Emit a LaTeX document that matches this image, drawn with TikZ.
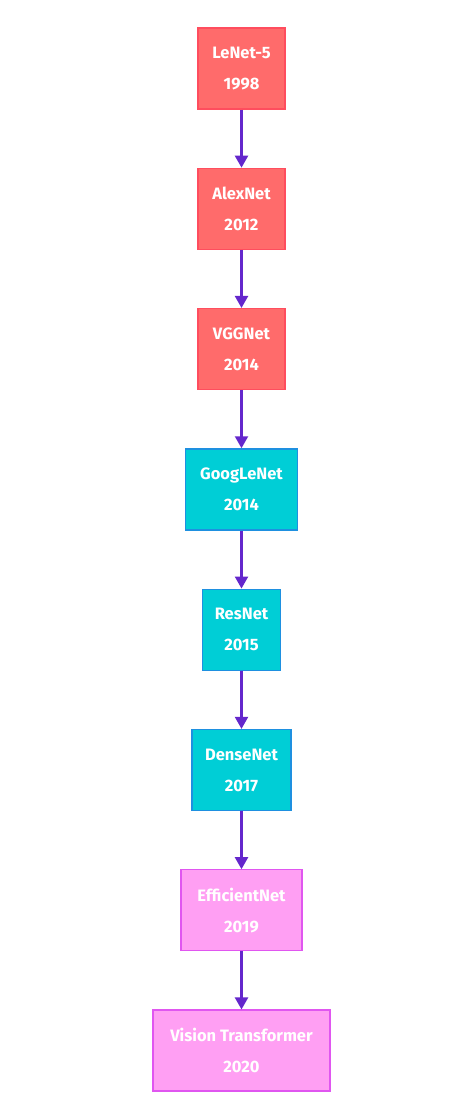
\documentclass[tikz,border=0pt]{standalone}
\usepackage{fontspec}
\setmainfont{Fira Sans}
\usetikzlibrary{positioning,arrows.meta}
\definecolor{redfill}{HTML}{FF6B6B}
\definecolor{redline}{HTML}{FF4D5E}
\definecolor{cyanfill}{HTML}{00CED6}
\definecolor{cyanline}{HTML}{1E90E0}
\definecolor{pinkfill}{HTML}{FF9FF3}
\definecolor{pinkline}{HTML}{E056F0}
\definecolor{arrowline}{HTML}{6427CC}
\tikzset{
  netbox/.style={draw, line width=1.3pt, minimum height=81pt, inner xsep=0pt,
    align=center, text=white, font=\fontsize{16.5}{31}\selectfont\bfseries},
  redbox/.style={netbox, fill=redfill, draw=redline},
  cyanbox/.style={netbox, fill=cyanfill, draw=cyanline},
  pinkbox/.style={netbox, fill=pinkfill, draw=pinkline},
  flow/.style={draw=arrowline, line width=2.2pt, -{Triangle[width=13pt,length=12pt]}}
}
\begin{document}
\begin{tikzpicture}[x=1pt,y=-1pt,node distance=58pt]
  \useasboundingbox (0,0) rectangle (471,1112);
  \node[redbox, minimum width=87pt] (lenet) at (241.5,68.5) {LeNet-5\\1998};
  \node[redbox, minimum width=87pt, below=of lenet] (alexnet) {AlexNet\\2012};
  \node[redbox, minimum width=87pt, below=of alexnet] (vggnet) {VGGNet\\2014};
  \node[cyanbox, minimum width=112pt, below=of vggnet] (googlenet) {GoogLeNet\\2014};
  \node[cyanbox, minimum width=78pt, below=of googlenet] (resnet) {ResNet\\2015};
  \node[cyanbox, minimum width=99pt, below=of resnet] (densenet) {DenseNet\\2017};
  \node[pinkbox, minimum width=121pt, below=of densenet] (efficientnet) {EfficientNet\\2019};
  \node[pinkbox, minimum width=177pt, below=of efficientnet] (vit) {Vision Transformer\\2020};
  % timeline arrows
  \foreach \a/\b in {lenet/alexnet, alexnet/vggnet, vggnet/googlenet, googlenet/resnet,
                     resnet/densenet, densenet/efficientnet, efficientnet/vit}
    \draw[flow] (\a) -- (\b);
\end{tikzpicture}
\end{document}
